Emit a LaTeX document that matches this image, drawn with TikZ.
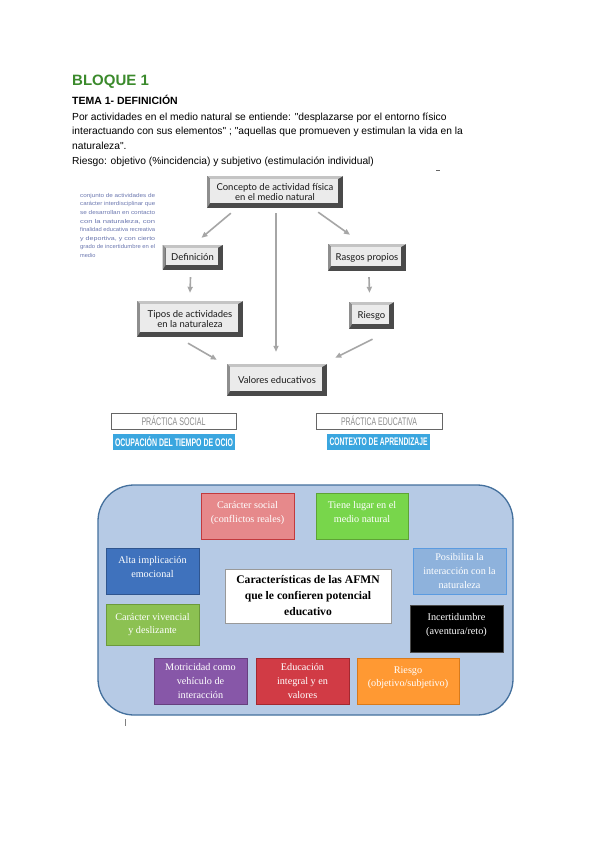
\documentclass[tikz,border=0pt]{standalone}
\usepackage{fontspec}
\usepackage{graphicx}
\setmainfont{Liberation Serif}
\newfontfamily\arial{Liberation Sans}
\newfontfamily\flowfont{Lato}
\usetikzlibrary{calc,arrows.meta}
\definecolor{bloque}{HTML}{3B8A2C}
\definecolor{bevdark}{HTML}{4A4A4A}
\definecolor{bevlight}{HTML}{C4C4C4}
\definecolor{bevmid}{HTML}{8E8E8E}
\definecolor{bevface}{HTML}{EBEBEB}
\definecolor{arrowgray}{HTML}{A6A6A6}
\definecolor{ociobl}{HTML}{3AA6DF}
\definecolor{panelfill}{HTML}{B6CAE5}
\definecolor{panelline}{HTML}{44709D}
\definecolor{socf}{HTML}{E6898B}\definecolor{socd}{HTML}{C23A3D}
\definecolor{lugf}{HTML}{78D64B}\definecolor{lugd}{HTML}{5EA336}
\definecolor{altf}{HTML}{3F72BD}\definecolor{altd}{HTML}{2F558F}
\definecolor{posf}{HTML}{8EB2DC}\definecolor{posd}{HTML}{5B9BE0}
\definecolor{vivf}{HTML}{8CC152}\definecolor{vivd}{HTML}{6C9A3C}
\definecolor{motf}{HTML}{8757A8}\definecolor{motd}{HTML}{66407F}
\definecolor{eduf}{HTML}{D13B45}\definecolor{edud}{HTML}{A3282F}
\definecolor{rief}{HTML}{FF9933}\definecolor{ried}{HTML}{D97A1A}
\definecolor{smalltxt}{HTML}{6C78B0}
\newcommand\padb{\\[-5pt]\mbox{}}
\newcommand\cond[2]{\resizebox{#1}{\height}{#2}}
\newcommand\jl[1]{\resizebox{75pt}{\height}{#1}}
\begin{document}
\begin{tikzpicture}[x=1pt,y=-1pt,
  hdr/.style={anchor=base west,inner sep=0,font=\arial\fontsize{10.25}{12}\selectfont},
  bev/.style={fill=bevdark,inner sep=0,align=center,text=black!90,
    font=\flowfont\fontsize{9.5}{10.5}\selectfont,
    path picture={
      \fill[bevlight] (path picture bounding box.north west) -- (path picture bounding box.north east)
        -- ([shift={(-5,3)}]path picture bounding box.north east) -- ([shift={(3,3)}]path picture bounding box.north west) -- cycle;
      \fill[bevmid] (path picture bounding box.north west) -- ([shift={(3,3)}]path picture bounding box.north west)
        -- ([shift={(3,-5)}]path picture bounding box.south west) -- (path picture bounding box.south west) -- cycle;
      \fill[bevface] ([shift={(3,3)}]path picture bounding box.north west) rectangle ([shift={(-5,-5)}]path picture bounding box.south east);
    }},
  flow/.style={draw=arrowgray,line width=1.6pt,-{Triangle[length=6pt,width=5pt]}},
  prac/.style={draw=black!60,line width=0.7pt,fill=white,inner sep=0,text=black!45,font=\arial\fontsize{11}{12}\selectfont},
  ctx/.style={fill=ociobl,inner sep=0,text=white,font=\arial\bfseries\fontsize{11}{12}\selectfont},
  cbox/.style={inner sep=0,align=center,line width=1pt,text=white,font=\fontsize{10.2}{13.7}\selectfont,minimum width=93pt,minimum height=46pt}
]
\useasboundingbox (0,0) rectangle (600,848);
\fill[white] (0,0) rectangle (600,848);

% ---------- header text ----------
\node[anchor=base west,inner sep=0,text=bloque,font=\arial\bfseries\fontsize{15}{18}\selectfont] (blq) at (72,86) {BLOQUE 1};
\node[hdr,font=\arial\bfseries\fontsize{10.5}{12}\selectfont] (tema) at (72,105) {TEMA 1- DEFINICIÓN};
\node[hdr] (p1) at (72,120.5) {Por actividades en el medio natural se entiende: "desplazarse por el entorno físico};
\node[hdr] (p2) at (72,135) {interactuando con sus elementos" ; "aquellas que promueven y estimulan la vida en la};
\node[hdr] (p3) at (72,149.5) {naturaleza".};
\node[hdr] (p4) at (72,164) {Riesgo: objetivo (\%incidencia) y subjetivo (estimulación individual)};
\draw[black!60,line width=0.6pt] (436,170) -- (440,170);

% ---------- small definition text ----------
\node[anchor=north west,inner sep=0,align=left,text=smalltxt,
  font=\arial\fontsize{5.6}{8.6}\selectfont] (deftxt) at (80,193)
  {\jl{conjunto de actividades de}\\\jl{carácter interdisciplinar que}\\\jl{se desarrollan en contacto}\\\jl{con la naturaleza, con}\\\jl{finalidad educativa recreativa}\\\jl{y deportiva, y con cierto}\\\jl{grado de incertidumbre en el}\\medio};

% ---------- flowchart ----------
\node[bev,minimum width=136pt,minimum height=32pt] (conc) at (275,192) {Concepto de actividad física\\en el medio natural};
\node[bev,minimum width=60pt,minimum height=25pt] (def) at (192.5,257.5) {Definición};
\node[bev,minimum width=78pt,minimum height=27pt] (rasg) at (367,257.5) {Rasgos propios};
\node[bev,minimum width=106pt,minimum height=36pt] (tipos) at (190,319) {Tipos de actividades\\en la naturaleza};
\node[bev,minimum width=45pt,minimum height=27pt] (ries) at (371.5,315.5) {Riesgo};
\node[bev,minimum width=100pt,minimum height=32pt] (val) at (277,380) {Valores educativos};

\draw[flow] ($(conc.south west)+(24,5)$) -- ($(def.north)+(9,-7)$);
\draw[flow] ($(conc.south east)+(-25,4)$) -- ($(rasg.north)+(-17,-9)$);
\draw[flow] ($(conc.south)+(1,5)$) -- ($(val.north)+(-1,-12)$);
\draw[flow] ($(def.south)+(-2,7)$) -- ($(tipos.north)+(0,-8)$);
\draw[flow] ($(rasg.south)+(2,6)$) -- ($(ries.north)+(-2,-9)$);
\draw[flow] ($(tipos.south)+(-2,6)$) -- ($(val.north west)+(-10,-4)$);
\draw[flow] ($(ries.south)+(1,10)$) -- ($(val.north east)+(8,-6)$);

% ---------- practice labels ----------
\node[prac,minimum width=125pt,minimum height=16pt] (psoc) at (173.5,421) {\cond{64pt}{PRÁCTICA SOCIAL}};
\node[ctx,minimum width=122pt,minimum height=16pt] (ocio) at (174,442) {\cond{118pt}{OCUPACIÓN DEL TIEMPO DE OCIO}};
\node[prac,minimum width=126pt,minimum height=16pt] (pedu) at (379,421) {\cond{76pt}{PRÁCTICA EDUCATIVA}};
\node[ctx,minimum width=103pt,minimum height=16pt] (cont) at (378.5,442) {\cond{98pt}{CONTEXTO DE APRENDIZAJE}};

% ---------- characteristics panel ----------
\draw[fill=panelfill,draw=panelline,line width=1.3pt,rounded corners=36pt] (98,485) rectangle (513,715);
\node[cbox,fill=socf,draw=socd] (soc) at (247.5,516) {Carácter social\\(conflictos reales)\padb};
\node[cbox,fill=lugf,draw=lugd,minimum width=92pt] (lugar) at (362,516) {Tiene lugar en el\\medio natural\padb};
\node[cbox,fill=altf,draw=altd] (alta) at (152.5,571) {Alta implicación\\emocional\padb};
\node[cbox,fill=posf,draw=posd] (posib) at (459.5,571) {Posibilita la\\interacción con la\\naturaleza};
\node[inner sep=0,align=center,fill=white,draw=black!40,line width=0.8pt,minimum width=166pt,minimum height=54pt,
  font=\bfseries\fontsize{11.6}{16}\selectfont] (carac) at (308,596) {Características de las AFMN\\que le confieren potencial\\educativo};
\node[cbox,fill=vivf,draw=vivd,minimum height=41pt] (viv) at (152.5,624.5) {Carácter vivencial\\y deslizante};
\node[cbox,fill=black,draw=black!70,minimum height=47pt] (incert) at (456.5,628.5) {Incertidumbre\\(aventura/reto)\padb};
\node[cbox,fill=motf,draw=motd] (motr) at (200.5,681) {Motricidad como\\vehículo de\\interacción};
\node[cbox,fill=eduf,draw=edud] (educ) at (302.5,681) {Educación\\integral y en\\valores};
\node[cbox,fill=rief,draw=ried,minimum width=102pt] (riesgo2) at (408,681) {Riesgo\\(objetivo/subjetivo)\padb};
\draw[black!50,line width=0.5pt] (125,719) -- (125,726);
\end{tikzpicture}
\end{document}
